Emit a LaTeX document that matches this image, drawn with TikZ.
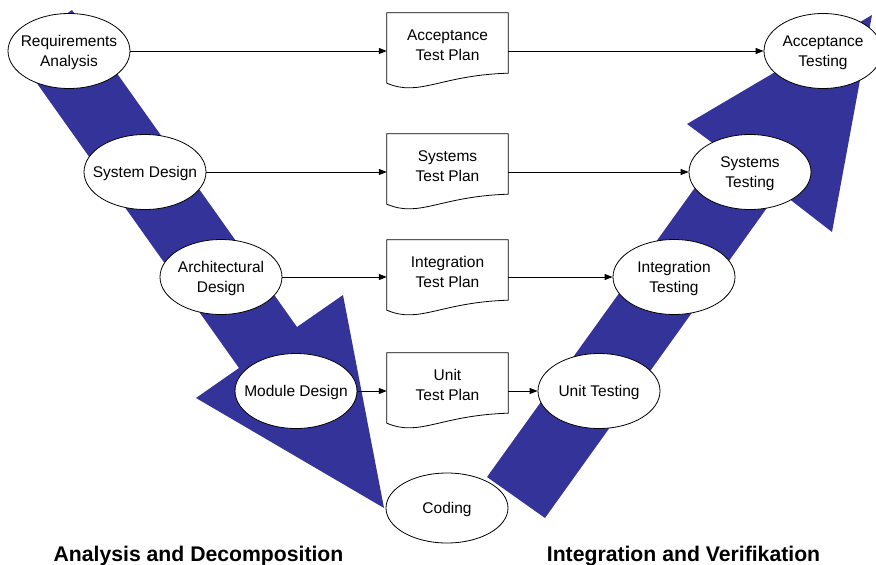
\documentclass[tikz,border=0pt]{standalone}
\usepackage{fontspec}
\setmainfont{Liberation Sans}
\usetikzlibrary{shapes.geometric,arrows.meta,calc}
\definecolor{vblue}{RGB}{51,51,153}
\begin{document}
\begin{tikzpicture}[x=1pt,y=-1pt,
  phase/.style={ellipse,draw,fill=white,line width=0.8pt,minimum width=122pt,minimum height=75pt,inner sep=-25pt,text depth=-2.5pt,align=center,font=\fontsize{15.5}{20}\selectfont},
  docnode/.style={rectangle,minimum width=121pt,minimum height=64pt,inner sep=0pt,text depth=-2pt,align=center,font=\fontsize{15.5}{19.5}\selectfont},
  docline/.style={line width=0.8pt},
  flow/.style={line width=0.8pt,-{Triangle[length=8pt,width=6pt]}},
  vshape/.style={fill=vblue},
  caption/.style={font=\fontsize{21.2}{24}\selectfont\bfseries,anchor=base,inner sep=0pt}]
\useasboundingbox (0,0) rectangle (876,565);
% V arrows
\fill[vshape] (72,10) -- (297,327) -- (343,295) -- (384,508) -- (196,398) -- (239,368) -- (14,51) -- cycle;
\fill[vshape] (487,477) -- (722,150) -- (687,124) -- (872,15) -- (832,232) -- (779,191) -- (545,518) -- cycle;
% phases
\node[phase] (ra) at (69,51) {Requirements\\Analysis};
\node[phase] (sd) at (145,172) {System Design};
\node[phase] (ad) at (221,277) {Architectural\\Design};
\node[phase] (md) at (296,391) {Module Design};
\node[phase,minimum height=70pt] (co) at (447,508) {Coding};
\node[phase] (ut) at (599,391) {Unit Testing};
\node[phase] (it) at (674,277) {Integration\\Testing};
\node[phase] (st) at (750,172) {Systems\\Testing};
\node[phase,minimum width=118pt] (at) at (823,51) {Acceptance\\Testing};
% documents
\node[docnode] (d1) at (447.5,45) {Acceptance\\Test Plan};
\node[docnode] (d2) at (447.5,166) {Systems\\Test Plan};
\node[docnode] (d3) at (447.5,272) {Integration\\Test Plan};
\node[docnode] (d4) at (447.5,385) {Unit\\Test Plan};
\foreach \d in {d1,d2,d3,d4}
  \draw[docline] (\d.north west) -- (\d.north east) -- ([yshift=4pt]\d.south east)
    .. controls ($(\d.south west)+(53,-2)$) and ($(\d.south west)+(33,20)$) .. ([yshift=-6pt]\d.south west) -- cycle;
% connectors
\draw[flow] (ra.east) -- (ra.east -| d1.west);
\draw[flow] (ra.east -| d1.east) -- (at.west);
\draw[flow] (sd.east) -- (sd.east -| d2.west);
\draw[flow] (sd.east -| d2.east) -- (st.west);
\draw[flow] (ad.east) -- (ad.east -| d3.west);
\draw[flow] (ad.east -| d3.east) -- (it.west);
\draw[flow] (md.east) -- (md.east -| d4.west);
\draw[flow] (md.east -| d4.east) -- (ut.west);
% captions
\node[caption] (lc) at (198.5,561) {Analysis and Decomposition};
\node[caption] (rc) at (683.5,561) {Integration and Verifikation};
\end{tikzpicture}
\end{document}
